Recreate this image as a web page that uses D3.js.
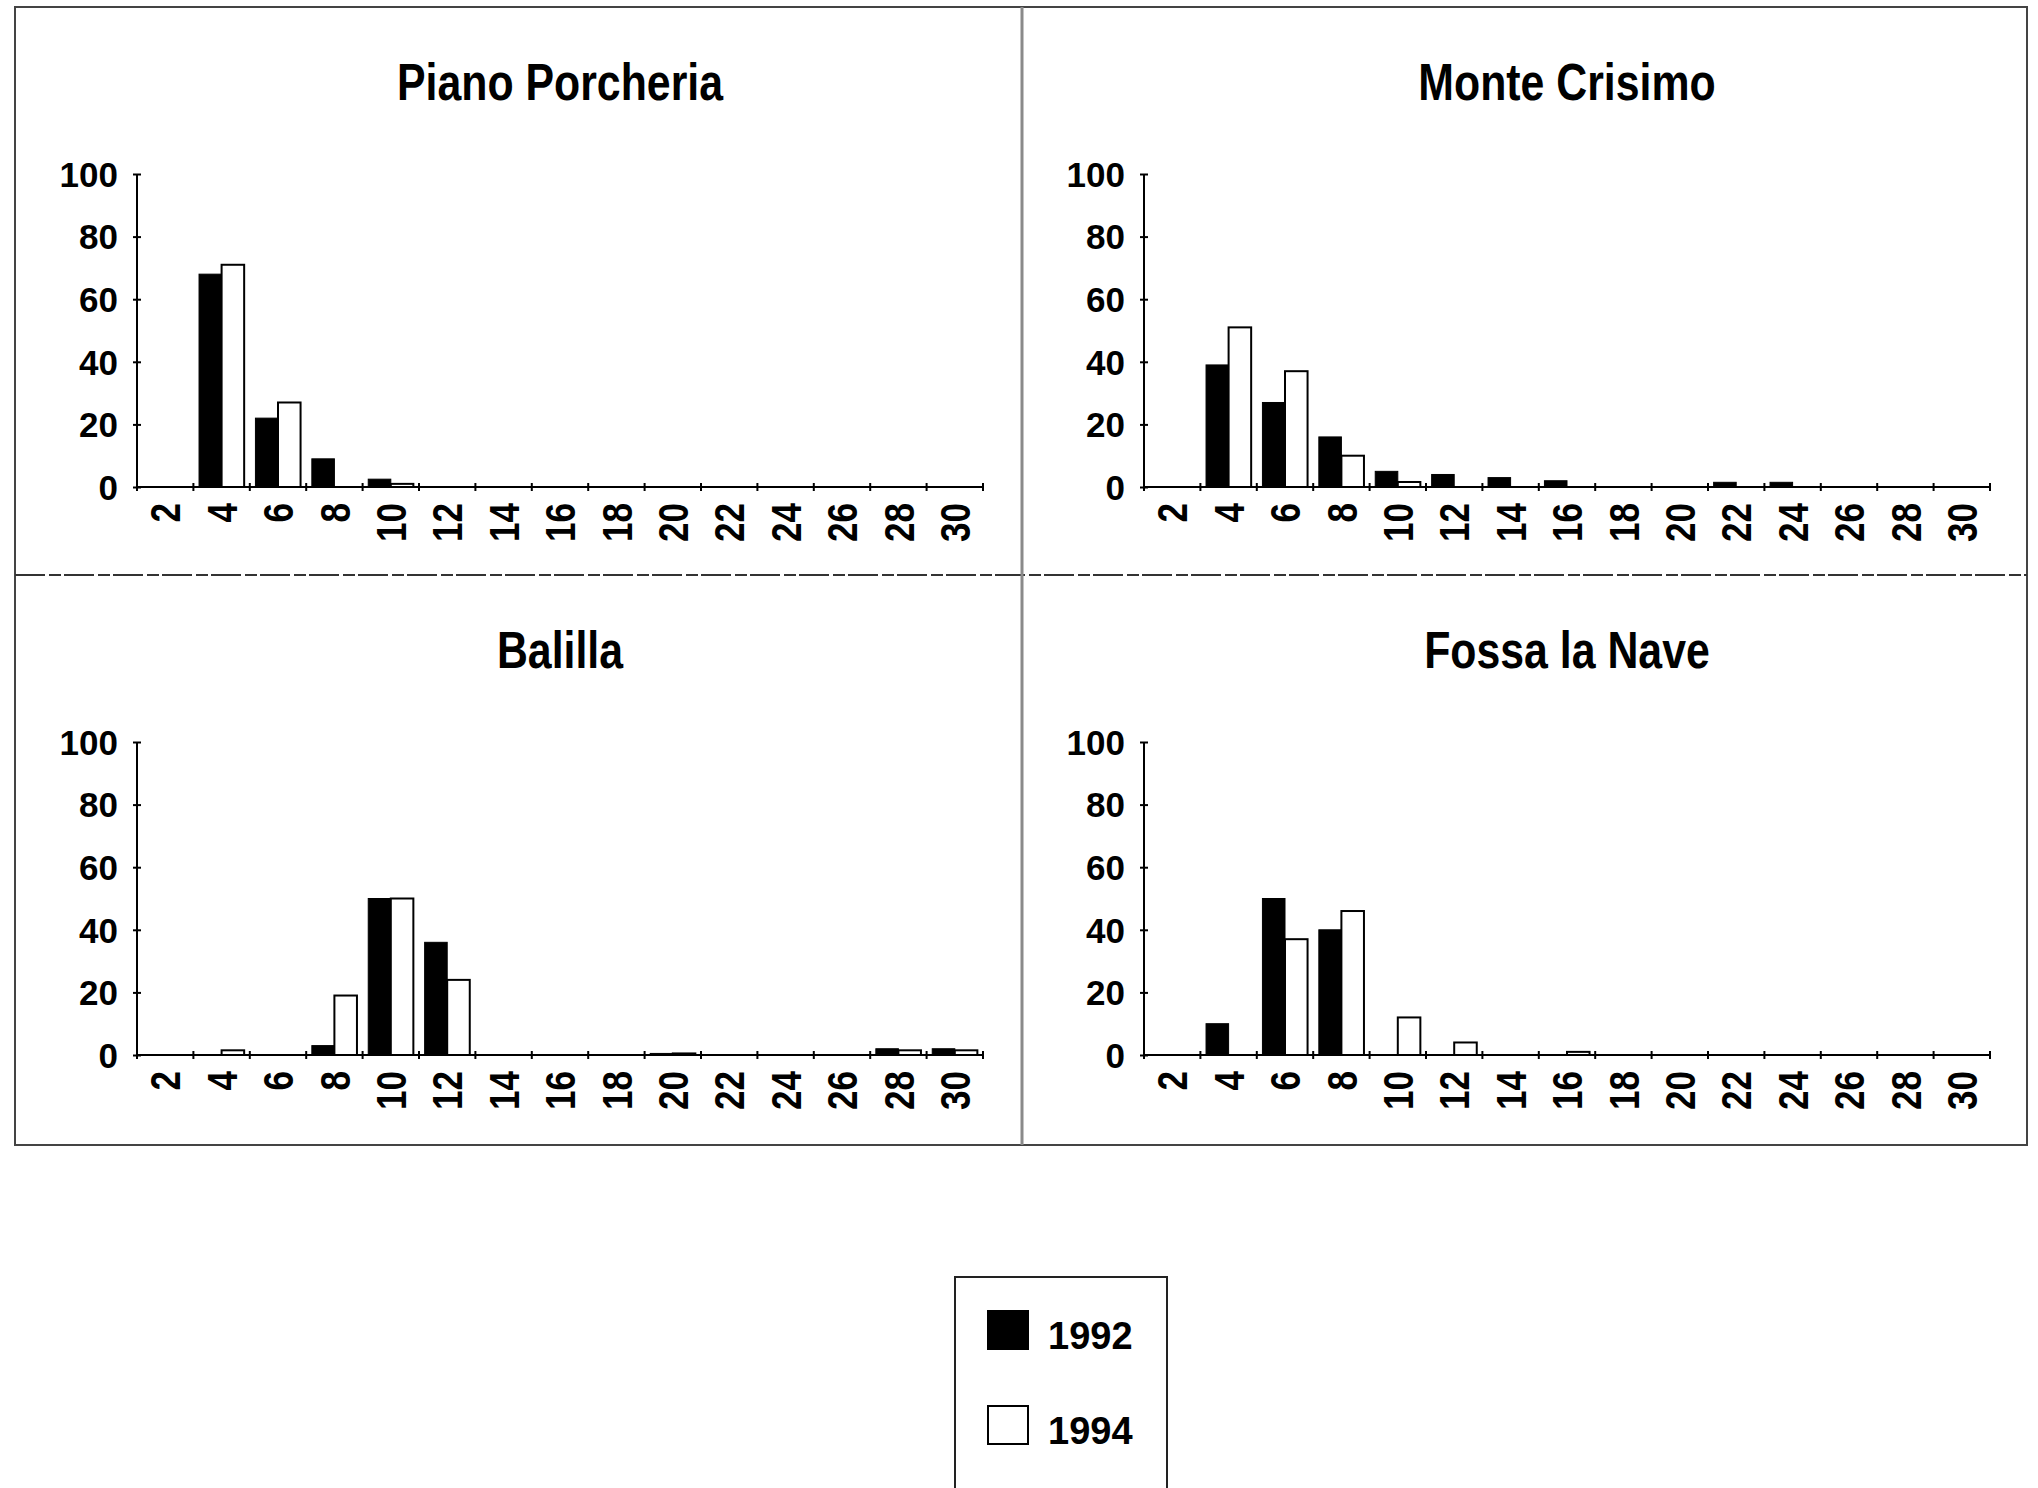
<!DOCTYPE html>
<html>
<head>
<meta charset="utf-8">
<script src="https://cdn.jsdelivr.net/npm/d3@7"></script>
<style>
  html, body { margin: 0; padding: 0; background: #fff; }
  svg { display: block; }
  text { font-family: "Liberation Sans", Arial, sans-serif; font-weight: bold; fill: #000; }
</style>
</head>
<body>
<svg id="chart" width="2038" height="1488"></svg>
<script>
// ---- data ----
const categories = [2, 4, 6, 8, 10, 12, 14, 16, 18, 20, 22, 24, 26, 28, 30];
const seriesNames = ["1992", "1994"];
const yTicks = [0, 20, 40, 60, 80, 100];
const panelTitles = ["Piano Porcheria", "Monte Crisimo", "Balilla", "Fossa la Nave"];

const piano1992 = [0, 68, 22, 9, 2.5, 0, 0, 0, 0, 0, 0, 0, 0, 0, 0];
const piano1994 = [0, 71, 27, 0, 1, 0, 0, 0, 0, 0, 0, 0, 0, 0, 0];
const monte1992 = [0, 39, 27, 16, 5, 4, 3, 2, 0, 0, 1.5, 1.5, 0, 0, 0];
const monte1994 = [0, 51, 37, 10, 1.6, 0, 0, 0, 0, 0, 0, 0, 0, 0, 0];
const balilla1992 = [0, 0, 0, 3, 50, 36, 0, 0, 0, 0.5, 0, 0, 0, 2, 2];
const balilla1994 = [0, 1.5, 0, 19, 50, 24, 0, 0, 0, 0.5, 0, 0, 0, 1.5, 1.5];
const fossa1992 = [0, 10, 50, 40, 0, 0, 0, 0, 0, 0, 0, 0, 0, 0, 0];
const fossa1994 = [0, 0, 37, 46, 12, 4, 0, 1, 0, 0, 0, 0, 0, 0, 0];

const panelData = [
  [piano1992, piano1994],
  [monte1992, monte1994],
  [balilla1992, balilla1994],
  [fossa1992, fossa1994]
];

// ---- layout ----
const svg = d3.select("#chart");
const frame = { x0: 15, y0: 7, x1: 2027, y1: 1145, mx: 1022, my: 575 };
const panelOrigins = [
  [frame.x0, frame.y0], [frame.mx, frame.y0],
  [frame.x0, frame.my], [frame.mx, frame.my]
];
const plotOff = { left: 122, top: 167, width: 846, height: 313, titleY: 93 };

svg.append("rect").attr("width", 2038).attr("height", 1488).attr("fill", "#fff");

// outer frame and dividers
const fr = svg.append("g").attr("fill", "none");
fr.append("rect")
  .attr("x", frame.x0).attr("y", frame.y0)
  .attr("width", frame.x1 - frame.x0).attr("height", frame.y1 - frame.y0)
  .attr("stroke", "#444").attr("stroke-width", 2);
fr.append("line").attr("x1", frame.x0).attr("x2", frame.x1)
  .attr("y1", frame.my).attr("y2", frame.my)
  .attr("stroke", "#333").attr("stroke-width", 2).attr("stroke-dasharray", "30,4,12,3");
fr.append("line").attr("x1", frame.mx).attr("x2", frame.mx)
  .attr("y1", frame.y0).attr("y2", frame.y1)
  .attr("stroke", "#8a8a8a").attr("stroke-width", 3);

const fills = ["#000", "#fff"];

panelData.forEach((series, pi) => {
  const [ox, oy] = panelOrigins[pi];
  const left = ox + plotOff.left, top = oy + plotOff.top;
  const w = plotOff.width, h = plotOff.height;
  const g = svg.append("g").attr("transform", `translate(${left},${top})`);

  const x = d3.scaleBand().domain(categories).range([0, w]).padding(0);
  const x1 = d3.scaleBand().domain(seriesNames).range([0, x.bandwidth()])
    .paddingInner(0).paddingOuter(0.25);
  const y = d3.scaleLinear().domain([0, 100]).range([h, 0]);

  // title
  svg.append("text")
    .attr("transform", `translate(${left + w / 2},${oy + plotOff.titleY}) scale(0.84,1)`)
    .attr("text-anchor", "middle")
    .attr("font-size", 51)
    .text(panelTitles[pi]);

  // bars
  seriesNames.forEach((s, si) => {
    g.append("g").selectAll("rect")
      .data(series[si].map((v, i) => ({ c: categories[i], v })))
      .join("rect")
      .filter(d => d.v > 0)
      .attr("x", d => x(d.c) + x1(s))
      .attr("y", d => y(d.v))
      .attr("width", x1.bandwidth())
      .attr("height", d => h - y(d.v))
      .attr("fill", fills[si])
      .attr("stroke", "#000")
      .attr("stroke-width", si === 0 ? 1 : 2);
  });

  // y axis
  const ya = g.append("g").call(
    d3.axisLeft(y).tickValues(yTicks).tickSize(5).tickPadding(14)
  );
  ya.select(".domain").remove();
  ya.selectAll(".tick line").attr("stroke", "#000").attr("stroke-width", 2)
    .attr("x1", -4).attr("x2", 4);
  ya.selectAll(".tick text")
    .attr("font-size", 35).attr("font-family", "'Liberation Sans', Arial, sans-serif")
    .attr("font-weight", "bold").attr("fill", "#000").attr("dy", "0.35em");
  g.append("line").attr("x1", 0).attr("x2", 0).attr("y1", 0).attr("y2", h)
    .attr("stroke", "#000").attr("stroke-width", 2);

  // x axis
  const xa = g.append("g").attr("transform", `translate(0,${h})`)
    .call(d3.axisBottom(x).tickSize(0).tickPadding(0));
  xa.select(".domain").remove();
  xa.selectAll(".tick text")
    .attr("font-size", 35).attr("font-family", "'Liberation Sans', Arial, sans-serif")
    .attr("font-weight", "bold").attr("fill", "#000")
    .attr("y", null).attr("dy", null)
    .attr("text-anchor", "end")
    .attr("transform", "translate(0,16) rotate(-90) scale(1,1.2)")
    .attr("dy", "0.36em");
  g.append("line").attr("x1", 0).attr("x2", w).attr("y1", h).attr("y2", h)
    .attr("stroke", "#000").attr("stroke-width", 2);
  // boundary ticks
  g.append("g").selectAll("line")
    .data(categories.map(c => x(c)).concat([w]))
    .join("line")
    .attr("x1", d => d).attr("x2", d => d)
    .attr("y1", h - 4).attr("y2", h + 4)
    .attr("stroke", "#000").attr("stroke-width", 2);
});

// legend
const lg = svg.append("g");
lg.append("rect").attr("x", 955).attr("y", 1277).attr("width", 212).attr("height", 240)
  .attr("fill", "#fff").attr("stroke", "#222").attr("stroke-width", 2);
const legendRows = [1311, 1406];
seriesNames.forEach((s, i) => {
  lg.append("rect").attr("x", 988).attr("y", legendRows[i])
    .attr("width", 40).attr("height", 38)
    .attr("fill", fills[i]).attr("stroke", "#000").attr("stroke-width", 2);
  lg.append("text").attr("x", 1048).attr("y", legendRows[i] + 38)
    .attr("font-size", 38).text(s);
});
</script>
</body>
</html>
